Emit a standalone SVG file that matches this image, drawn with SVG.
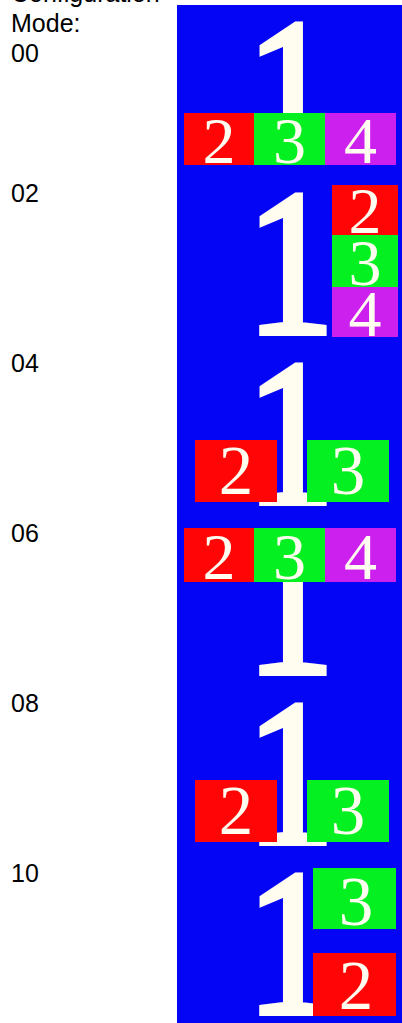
<svg xmlns="http://www.w3.org/2000/svg" width="402" height="1023" viewBox="0 0 402 1023">
<style>
.lbl{font-family:"Liberation Sans",Arial,sans-serif;font-size:25px;fill:#000}
.bg{fill:#0505f5}
.r{fill:#ff0505}
.g{fill:#05f020}
.m{fill:#cc20ee}
.one{font-family:"Liberation Serif","Times New Roman",serif;font-size:208px;fill:#fffcf0;stroke:#fffcf0;stroke-width:6px;stroke-linejoin:miter;text-anchor:middle}
.d{font-family:"Liberation Serif","Times New Roman",serif;font-size:66px;fill:#fffcf0;text-anchor:middle}
.dl{font-family:"Liberation Serif","Times New Roman",serif;font-size:69px;fill:#fffcf0;text-anchor:middle}
</style>
<rect width="402" height="1023" fill="#fff"/>
<g id="labels">
<text class="lbl" x="11" y="1.7">Configuration</text>
<text class="lbl" x="11" y="31.7">Mode:</text>
<text class="lbl" x="11" y="62">00</text>
<text class="lbl" x="11" y="202">02</text>
<text class="lbl" x="11" y="372">04</text>
<text class="lbl" x="11" y="542">06</text>
<text class="lbl" x="11" y="712">08</text>
<text class="lbl" x="11" y="882">10</text>
</g>
<g id="mode00">
<rect class="bg" x="177" y="5" width="225" height="171"/>
<text class="one" transform="translate(290.5,162) scale(0.85,1)">1</text>
<rect class="r" x="184" y="113" width="70" height="52"/>
<rect class="g" x="254" y="113" width="71" height="52"/>
<rect class="m" x="325" y="113" width="71" height="52"/>
<text class="d" x="219" y="163">2</text>
<text class="d" x="289.5" y="163">3</text>
<text class="d" x="360.5" y="163">4</text>
</g>
<g id="mode02">
<rect class="bg" x="177" y="176" width="225" height="170"/>
<text class="one" transform="translate(290.5,333) scale(0.85,1)">1</text>
<rect class="r" x="332" y="185" width="66" height="50"/>
<rect class="g" x="332" y="235" width="66" height="52"/>
<rect class="m" x="332" y="287" width="66" height="50"/>
<text class="d" x="365" y="233">2</text>
<text class="d" x="365" y="285">3</text>
<text class="d" x="365" y="336">4</text>
</g>
<g id="mode04">
<rect class="bg" x="177" y="346" width="225" height="170"/>
<text class="one" transform="translate(290.5,503) scale(0.85,1)">1</text>
<rect class="r" x="195" y="440" width="82" height="62"/>
<rect class="g" x="307" y="440" width="82" height="62"/>
<text class="dl" x="236" y="494">2</text>
<text class="dl" x="348" y="494">3</text>
</g>
<g id="mode06">
<rect class="bg" x="177" y="516" width="225" height="170"/>
<text class="one" transform="translate(290.5,673) scale(0.85,1)">1</text>
<rect class="r" x="184" y="528" width="70" height="54"/>
<rect class="g" x="254" y="528" width="71" height="54"/>
<rect class="m" x="325" y="528" width="71" height="54"/>
<text class="d" x="219" y="579">2</text>
<text class="d" x="289.5" y="579">3</text>
<text class="d" x="360.5" y="579">4</text>
</g>
<g id="mode08">
<rect class="bg" x="177" y="686" width="225" height="170"/>
<text class="one" transform="translate(290.5,843) scale(0.85,1)">1</text>
<rect class="r" x="195" y="780" width="82" height="62"/>
<rect class="g" x="307" y="780" width="82" height="62"/>
<text class="dl" x="236" y="834">2</text>
<text class="dl" x="348" y="834">3</text>
</g>
<g id="mode10">
<rect class="bg" x="177" y="856" width="225" height="167"/>
<text class="one" transform="translate(290.5,1013) scale(0.85,1)">1</text>
<rect class="g" x="313" y="868" width="83" height="61"/>
<rect class="r" x="313" y="953" width="83" height="63"/>
<text class="dl" x="356" y="925">3</text>
<text class="dl" x="356" y="1009">2</text>
</g>
</svg>
